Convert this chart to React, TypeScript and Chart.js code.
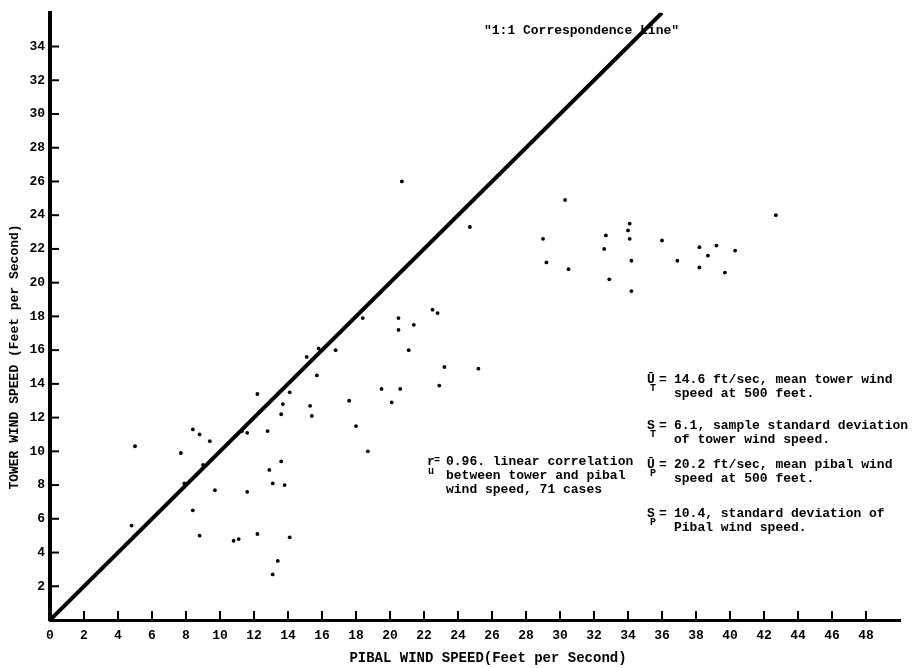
import { useEffect, useRef } from 'react';
import { Chart, registerables } from 'chart.js';

Chart.register(...registerables);

// Pibal wind speed (x) and tower wind speed (y), ft/sec
const pibalSpeed = [
  12.2, 5.0, 8.4, 8.8, 9.4, 7.7, 9.0, 7.9, 9.7, 8.4, 4.8, 8.8, 10.8, 11.1, 12.2, 11.6, 11.3, 11.6, 12.8, 12.9, 13.1, 13.4, 13.1,
  20.7, 24.7, 22.5, 22.8, 20.5, 20.5, 21.4, 18.4, 16.8, 15.8, 15.1, 15.7, 21.1, 23.2, 25.2, 22.9, 19.5, 20.6, 20.1, 17.6, 18.0, 18.7, 14.1, 13.7, 13.6, 15.3, 15.4, 13.6, 13.8, 14.1,
  30.3, 29.0, 29.2, 30.5, 32.7, 32.6, 32.9, 34.1, 34.0, 34.1, 34.2, 34.2, 36.0, 36.9, 38.2, 38.2, 38.7, 39.2, 39.7, 40.3, 42.7,
];
const towerSpeed = [
  13.4, 10.3, 11.3, 11.0, 10.6, 9.9, 9.2, 8.1, 7.7, 6.5, 5.6, 5.0, 4.7, 4.8, 5.1, 7.6, 11.2, 11.1, 11.2, 8.9, 8.1, 3.5, 2.7,
  26.0, 23.3, 18.4, 18.2, 17.9, 17.2, 17.5, 17.9, 16.0, 16.1, 15.6, 14.5, 16.0, 15.0, 14.9, 13.9, 13.7, 13.7, 12.9, 13.0, 11.5, 10.0, 13.5, 12.8, 12.2, 12.7, 12.1, 9.4, 8.0, 4.9,
  24.9, 22.6, 21.2, 20.8, 22.8, 22.0, 20.2, 23.5, 23.1, 22.6, 21.3, 19.5, 22.5, 21.3, 22.1, 20.9, 21.6, 22.2, 20.6, 21.9, 24.0,
];

// 1:1 correspondence line
const lineX = [0, 36];
const lineY = [0, 36];

const xTicks = [0, 2, 4, 6, 8, 10, 12, 14, 16, 18, 20, 22, 24, 26, 28, 30, 32, 34, 36, 38, 40, 42, 44, 46, 48];
const yTicks = [2, 4, 6, 8, 10, 12, 14, 16, 18, 20, 22, 24, 26, 28, 30, 32, 34];

const xTitle = 'PIBAL WIND SPEED(Feet per Second)';
const yTitle = 'TOWER WIND SPEED (Feet per Second)';
const lineLabel = '"1:1 Correspondence Line"';
const corrLines = ['0.96. linear correlation', 'between tower and pibal', 'wind speed, 71 cases'];
const statBlocks = [
  { sym: 'Ū', sub: 'T', lines: ['14.6 ft/sec, mean tower wind', 'speed at 500 feet.'] },
  { sym: 'S', sub: 'T', lines: ['6.1, sample standard deviation', 'of tower wind speed.'] },
  { sym: 'Ū', sub: 'P', lines: ['20.2 ft/sec, mean pibal wind', 'speed at 500 feet.'] },
  { sym: 'S', sub: 'P', lines: ['10.4, standard deviation of', 'Pibal wind speed.'] },
];

const MONO = '"Liberation Mono", "DejaVu Sans Mono", monospace';

const overlay = {
  id: 'overlay',
  afterDraw(chart: any) {
    const { ctx, chartArea, scales } = chart;
    const xs = scales.x;
    const ys = scales.y;
    ctx.save();
    ctx.strokeStyle = '#000';
    ctx.fillStyle = '#000';
    ctx.lineWidth = 2;
    // inward tick marks
    xTicks.forEach((v) => {
      if (v === 0) return;
      const px = xs.getPixelForValue(v);
      ctx.beginPath();
      ctx.moveTo(px, chartArea.bottom);
      ctx.lineTo(px, chartArea.bottom - 9);
      ctx.stroke();
    });
    yTicks.forEach((v) => {
      const py = ys.getPixelForValue(v);
      ctx.beginPath();
      ctx.moveTo(chartArea.left, py);
      ctx.lineTo(chartArea.left + 9, py);
      ctx.stroke();
    });

    ctx.textBaseline = 'middle';

    // axis titles
    ctx.textAlign = 'center';
    ctx.font = `bold 14px ${MONO}`;
    ctx.fillText(xTitle, 488, 658);
    ctx.font = `bold 13px ${MONO}`;
    ctx.save();
    ctx.translate(15, 357);
    ctx.rotate(-Math.PI / 2);
    ctx.fillText(yTitle, 0, 0);
    ctx.restore();
    ctx.textAlign = 'left';

    // line label
    ctx.fillText(lineLabel, 484, 31);

    // correlation note
    const rTop = 462;
    ctx.font = `bold 13px ${MONO}`;
    ctx.fillText('r', 427, rTop);
    ctx.font = `bold 10px ${MONO}`;
    ctx.fillText('=', 434, rTop - 2);
    ctx.fillText('u', 428, rTop + 9);
    ctx.font = `bold 13px ${MONO}`;
    corrLines.forEach((t, i) => ctx.fillText(t, 446, rTop + i * 14));

    // statistics block
    const tops = [380, 426, 465, 514];
    statBlocks.forEach((b, i) => {
      const y0 = tops[i];
      ctx.font = `bold 13px ${MONO}`;
      ctx.fillText(b.sym, 647, y0);
      ctx.fillText('=', 659, y0);
      ctx.font = `bold 10px ${MONO}`;
      ctx.fillText(b.sub, 650, y0 + 8);
      ctx.font = `bold 13px ${MONO}`;
      b.lines.forEach((t, j) => ctx.fillText(t, 674, y0 + j * 14));
    });
    ctx.restore();
  },
};

export default function App() {
  const ref = useRef<HTMLCanvasElement>(null);
  useEffect(() => {
    if (!ref.current) return;
    const tickFont = { family: MONO, size: 13, weight: 'bold' as const };
    const chart = new Chart(ref.current, {
      type: 'scatter',
      data: {
        datasets: [
          {
            type: 'line',
            data: lineX.map((x, i) => ({ x, y: lineY[i] })),
            borderColor: '#000',
            borderWidth: 4,
            pointRadius: 0,
            fill: false,
            tension: 0,
          } as any,
          {
            type: 'scatter',
            data: pibalSpeed.map((x, i) => ({ x, y: towerSpeed[i] })),
            pointRadius: 1.9,
            pointBackgroundColor: '#000',
            pointBorderWidth: 0,
            backgroundColor: '#000',
          },
        ],
      },
      options: {
        animation: false,
        responsive: false,
        maintainAspectRatio: false,
        layout: { padding: { top: 8, right: 17, left: 0, bottom: 0 } },
        plugins: { legend: { display: false }, tooltip: { enabled: false } },
        scales: {
          x: {
            type: 'linear',
            min: 0,
            max: 50,
            afterBuildTicks: (s: any) => {
              s.ticks = xTicks.map((v) => ({ value: v }));
            },
            afterFit: (s: any) => {
              s.height = 48;
            },
            ticks: { autoSkip: false, maxRotation: 0, padding: 8, color: '#000', font: tickFont },
            grid: { display: false, drawTicks: false },
            border: { display: true, width: 3, color: '#000' },
          },
          y: {
            type: 'linear',
            min: 0,
            max: 36,
            afterBuildTicks: (s: any) => {
              s.ticks = yTicks.map((v) => ({ value: v }));
            },
            afterFit: (s: any) => {
              s.width = 50;
            },
            ticks: { autoSkip: false, padding: 5, color: '#000', font: tickFont },
            grid: { display: false, drawTicks: false },
            border: { display: true, width: 4, color: '#000' },
          },
        },
      },
      plugins: [overlay],
    });
    return () => chart.destroy();
  }, []);
  return (
    <div style={{ position: 'absolute', left: 0, top: 0, width: 917, height: 668, background: '#fff' }}>
      <canvas ref={ref} width={917} height={668} style={{ display: 'block', width: 917, height: 668 }} />
    </div>
  );
}
